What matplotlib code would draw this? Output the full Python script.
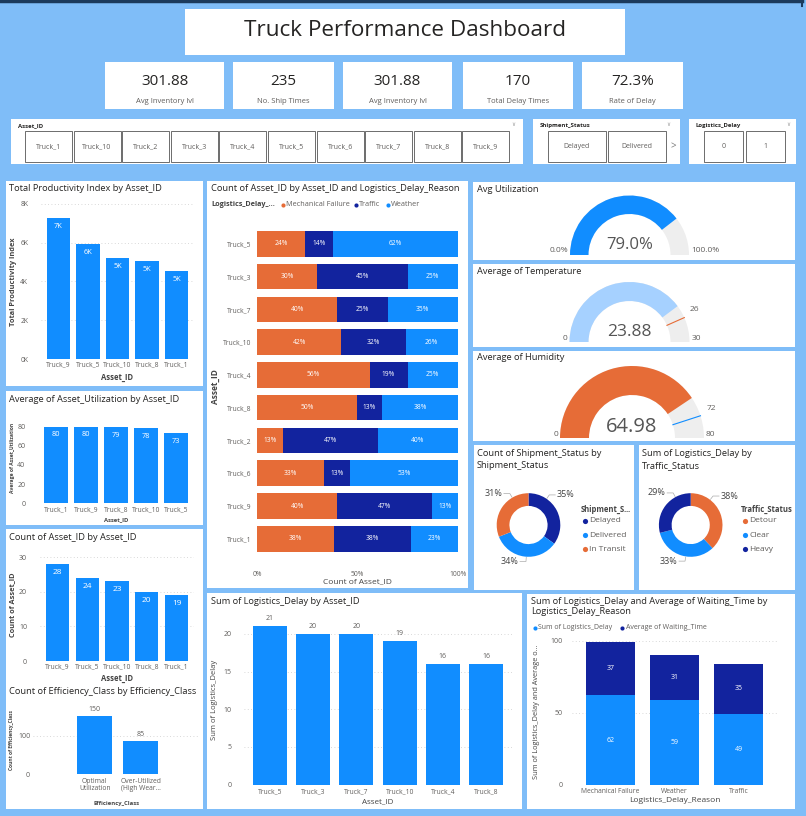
import numpy as np
import matplotlib
matplotlib.use("Agg")
import matplotlib.pyplot as plt
from matplotlib.patches import Rectangle, Wedge

plt.rcParams['font.family'] = ['Open Sans', 'DejaVu Sans']

# ---------------- data ----------------
kpi_values = ["301.88", "235", "301.88", "170", "72.3%"]
kpi_labels = ["Avg Inventory lvl", "No. Ship Times", "Avg Inventory lvl", "Total Delay Times", "Rate of Delay"]

slicer_trucks = ["Truck_1", "Truck_10", "Truck_2", "Truck_3", "Truck_4", "Truck_5", "Truck_6", "Truck_7", "Truck_8", "Truck_9"]
slicer_status = ["Delayed", "Delivered"]
slicer_delay = ["0", "1"]

prod_ids = ["Truck_9", "Truck_5", "Truck_10", "Truck_8", "Truck_1"]
prod_vals = [7280, 5950, 5220, 5060, 4520]

util_ids = ["Truck_1", "Truck_9", "Truck_8", "Truck_10", "Truck_5"]
util_vals = [80, 80, 79, 78, 73]

count_ids = ["Truck_9", "Truck_5", "Truck_10", "Truck_8", "Truck_1"]
count_vals = [28, 24, 23, 20, 19]

eff_classes = ["Optimal\nUtilization", "Over-Utilized\n(High Wear..."]
eff_vals = [150, 85]

reason_ids = ["Truck_5", "Truck_3", "Truck_7", "Truck_10", "Truck_4", "Truck_8", "Truck_2", "Truck_6", "Truck_9", "Truck_1"]
reason_names = ["Mechanical Failure", "Traffic", "Weather"]
mech_pct = [24, 30, 40, 42, 56, 50, 13, 33, 40, 38]
traffic_pct = [14, 45, 25, 32, 19, 13, 47, 13, 47, 38]
weather_pct = [62, 25, 35, 26, 25, 38, 40, 53, 13, 23]

util_gauge = (79.0, 0, 100)
temp_gauge = (23.88, 0, 30, 26)
hum_gauge = (64.98, 0, 80, 72)

ship_status = ["Delayed", "Delivered", "In Transit"]
ship_pct = [35, 34, 31]
traffic_status = ["Detour", "Clear", "Heavy"]
traffic_share = [38, 33, 29]

delay_ids = ["Truck_5", "Truck_3", "Truck_7", "Truck_10", "Truck_4", "Truck_8"]
delay_vals = [21, 20, 20, 19, 16, 16]

delay_reasons = ["Mechanical Failure", "Weather", "Traffic"]
sum_delay = [62, 59, 49]
avg_wait = [37, 31, 35]

# ---------------- style ----------------
BLUE = '#118DFF'
NAVY = '#12239E'
ORANGE = '#E66C37'
LIGHT = '#A6D1FF'
GBG = '#EEEEEE'
BG = '#7FBDF8'
GRAY = '#605E5C'
DARK = '#252423'

W, H = 806, 816
fig = plt.figure(figsize=(W / 100, H / 100), dpi=100)
fig.patch.set_facecolor(BG)

ax0 = fig.add_axes([0, 0, 1, 1])
ax0.set_xlim(0, W)
ax0.set_ylim(0, H)
ax0.axis('off')


def Y(y):
    return H - y


def box(x0, y0, x1, y1, fc='white', ec='none', lw=0.6):
    ax0.add_patch(Rectangle((x0, Y(y1)), x1 - x0, y1 - y0, facecolor=fc, edgecolor=ec, lw=lw))


def txt(x, y, s, size=6, color=DARK, ha='left', va='center', **kw):
    ax0.text(x, Y(y), s, fontsize=size, color=color, ha=ha, va=va, **kw)


def axpx(x0, y0, x1, y1):
    a = fig.add_axes([x0 / W, (H - y1) / H, (x1 - x0) / W, (y1 - y0) / H])
    a.set_facecolor('none')
    for s in a.spines.values():
        s.set_visible(False)
    a.tick_params(length=0, labelsize=4.9, labelcolor=GRAY)
    return a


# top frame line
ax0.plot([0, 802], [Y(1), Y(1)], color='#1B3A5C', lw=2.5)
ax0.plot([802, 802], [Y(0), Y(6)], color='#1B3A5C', lw=1.5)

# title
box(185, 9, 625, 55)
txt(405, 31, "Truck Performance Dashboard", size=16.2, ha='center', color=DARK)

# KPI cards
cards = [(105, 224), (233, 334), (343, 452), (463, 573), (582, 683)]
for (x0, x1), v, l in zip(cards, kpi_values, kpi_labels):
    box(x0, 62, x1, 109)
    txt((x0 + x1) / 2, 81.5, v, size=11, ha='center', color=DARK)
    txt((x0 + x1) / 2, 101.5, l, size=5.5, ha='center', color=GRAY)


# slicers
def slicer(x0, x1, title, items, bx0, step, bw, chev):
    box(x0, 119, x1, 164)
    txt(x0 + 7, 125.5, title, size=4.3, weight='bold')
    txt(chev, 124.5, "\u2228", size=4, color='#999999', ha='center')
    for i, it in enumerate(items):
        bx = bx0 + i * step
        box(bx, 131, bx + bw, 161.5, ec='#555555', lw=0.6)
        txt(bx + bw / 2, 146.5, it, size=5.0, ha='center', color=GRAY)


slicer(11, 523, "Asset_ID", slicer_trucks, 25, 48.6, 47, 513)
slicer(533, 680, "Shipment_Status", slicer_status, 547.5, 60, 58, 668)
txt(673.5, 146.5, ">", size=7, color='#777777', ha='center')
slicer(689, 796, "Logistics_Delay", slicer_delay, 704, 41.5, 39, 788)

# panels
box(6, 181, 203, 386)
box(6, 391, 203, 525)
box(6, 529, 203, 809)
box(207, 181, 468, 588)
box(473, 182, 795, 260)
box(473, 264, 795, 347)
box(473, 351, 795, 441)
box(474, 445, 634, 590)
box(639, 445, 795, 590)
box(207, 593, 522, 809)
box(527, 594, 795, 809)

TS = 6.7  # chart title size


def inside_labels(ax, xs, vals, labels, off=-3.5, color='white', size=5.3, va='top'):
    for x, v, l in zip(xs, vals, labels):
        ax.annotate(l, (x, v), xytext=(0, off), textcoords='offset points',
                    ha='center', va=va, color=color, fontsize=size)


def grid_y(ax):
    ax.grid(axis='y', color='#CCCCCC', ls=(0, (1, 3)), lw=0.6)
    ax.set_axisbelow(True)


# ---- Total Productivity Index ----
txt(9, 188.5, "Total Productivity Index by Asset_ID", size=TS)
a = axpx(40.8, 200, 194.2, 359)
x = np.arange(len(prod_ids))
a.bar(x, prod_vals, width=0.78, color=BLUE)
a.set_xlim(-0.6, len(prod_ids) - 0.4)
a.set_ylim(0, 8206)
a.set_yticks([0, 2000, 4000, 6000, 8000])
a.set_yticklabels(["0K", "2K", "4K", "6K", "8K"])
a.set_xticks(x)
a.set_xticklabels(prod_ids)
a.tick_params(axis='y', pad=9)
a.tick_params(axis='x', pad=2)
grid_y(a)
inside_labels(a, x, prod_vals, [f"{round(v / 1000)}K" for v in prod_vals])
txt(14, 282, "Total Productivity Index", size=5.3, rotation=90, ha='center', weight='bold', color='#444444')
txt(117, 377.5, "Asset_ID", size=5.5, ha='center', weight='bold', color='#444444')

# ---- Average of Asset_Utilization ----
txt(9, 399, "Average of Asset_Utilization by Asset_ID", size=TS)
a = axpx(38, 415, 194, 503.3)
x = np.arange(len(util_ids))
a.bar(x, util_vals, width=0.78, color=BLUE)
a.set_xlim(-0.6, len(util_ids) - 0.4)
a.set_ylim(0, 92)
a.set_yticks([0, 20, 40, 60, 80])
a.set_xticks(x)
a.set_xticklabels(util_ids)
a.tick_params(axis='y', pad=9, labelsize=5)
a.tick_params(axis='x', pad=2)
inside_labels(a, x, util_vals, [str(v) for v in util_vals])
txt(12.5, 458, "Average of Asset_Utilization", size=3.6, rotation=90, ha='center', weight='bold', color='#444444')
txt(116, 520, "Asset_ID", size=4.2, ha='center', weight='bold', color='#444444')

# ---- Count of Asset_ID ----
txt(9, 537, "Count of Asset_ID by Asset_ID", size=TS)
a = axpx(39.6, 553, 194.4, 661)
x = np.arange(len(count_ids))
a.bar(x, count_vals, width=0.78, color=BLUE)
a.set_xlim(-0.6, len(count_ids) - 0.4)
a.set_ylim(0, 31.2)
a.set_yticks([0, 10, 20, 30])
a.set_xticks(x)
a.set_xticklabels(count_ids)
a.tick_params(axis='y', pad=9, labelsize=5)
a.tick_params(axis='x', pad=2)
grid_y(a)
inside_labels(a, x, count_vals, [str(v) for v in count_vals], size=6)
txt(13, 605, "Count of Asset_ID", size=5.3, rotation=90, ha='center', weight='bold', color='#444444')
txt(117, 678.5, "Asset_ID", size=5.5, ha='center', weight='bold', color='#444444')

# ---- Count of Efficiency_Class ----
txt(9, 692, "Count of Efficiency_Class by Efficiency_Class", size=TS)
a = axpx(33, 712, 200, 774.3)
x = np.arange(len(eff_classes))
a.bar(x, eff_vals, width=0.76, color=BLUE)
a.set_xlim(-1.34, 2.29)
a.set_ylim(0, 161)
a.set_yticks([0, 100])
a.set_xticks(x)
a.set_xticklabels(eff_classes, linespacing=1.1)
a.tick_params(axis='y', pad=2, labelsize=5)
a.tick_params(axis='x', pad=2.5)
grid_y(a)
inside_labels(a, x, eff_vals, [str(v) for v in eff_vals], off=2.5, color=GRAY, size=5, va='bottom')
txt(12, 740, "Count of Efficiency_Class", size=3.5, rotation=90, ha='center', weight='bold', color='#444444')
txt(117, 803, "Efficiency_Class", size=4.2, ha='center', weight='bold', color='#444444')

# ---- 100% stacked bars ----
txt(211, 188.5, "Count of Asset_ID by Asset_ID and Logistics_Delay_Reason", size=TS)
txt(211, 205, "Logistics_Delay_...", size=5.2, weight='bold', color='#444444')
leg = [(282.7, ORANGE, "Mechanical Failure"), (355.7, NAVY, "Traffic"), (387.7, BLUE, "Weather")]
for lx, c, name in leg:
    ax0.scatter([lx], [Y(205)], s=9, color=c, lw=0)
    txt(lx + 3.5, 205, name, size=5.2, color=GRAY)
a = axpx(257.3, 224.1, 457.7, 558.5)
y = np.arange(len(reason_ids))
tot = np.array(mech_pct) + np.array(traffic_pct) + np.array(weather_pct)
left = np.zeros(len(reason_ids))
for vals, c in zip([mech_pct, traffic_pct, weather_pct], [ORANGE, NAVY, BLUE]):
    frac = np.array(vals) / tot
    a.barh(y, frac, left=left, height=0.78, color=c)
    for yi, l, f, v in zip(y, left, frac, vals):
        a.text(l + f / 2, yi, f"{v}%", ha='center', va='center', color='white', fontsize=4.8)
    left = left + frac
a.set_xlim(0, 1)
a.set_ylim(len(reason_ids) - 0.4, -0.6)
a.set_yticks(y)
a.set_yticklabels(reason_ids)
a.set_xticks([0, 0.5, 1])
a.set_xticklabels(["0%", "50%", "100%"])
a.tick_params(axis='y', pad=4)
a.tick_params(axis='x', pad=9)
txt(215, 387, "Asset_ID", size=6, rotation=90, ha='center', weight='bold', color='#444444')
txt(357, 582, "Count of Asset_ID", size=6, ha='center', color='#444444')


# ---- gauges ----
def gauge(cx, cy, r_out, r_in, value, vmin, vmax, color, target=None, tcolor=None,
          vtext='', vsize=12, lmin='', lmax='', ltarget=''):
    frac = (value - vmin) / (vmax - vmin)
    ang = 180 - 180 * frac
    ax0.add_patch(Wedge((cx, Y(cy)), r_out, 0, 180, width=r_out - r_in, facecolor=GBG, lw=0))
    ax0.add_patch(Wedge((cx, Y(cy)), r_out, ang, 180, width=r_out - r_in, facecolor=color, lw=0))
    txt(cx, cy - 10 - (vsize - 12) * 0.6, vtext, size=vsize, ha='center', color='#555555')
    txt(cx - r_out - 2, cy - 4, lmin, size=6, ha='right', color=GRAY)
    txt(cx + r_out + 2, cy - 4, lmax, size=6, ha='left', color=GRAY)
    if target is not None:
        t = np.radians(180 - 180 * (target - vmin) / (vmax - vmin))
        ax0.plot([cx + r_in * np.cos(t), cx + r_out * np.cos(t)],
                 [Y(cy) + r_in * np.sin(t), Y(cy) + r_out * np.sin(t)], color=tcolor, lw=0.8)
        tx = cx + (r_out + 6) * np.cos(t)
        ty = Y(cy) + (r_out + 6) * np.sin(t) + 2
        ax0.text(tx, ty, ltarget, fontsize=6, color=GRAY, ha='left', va='bottom')


txt(477, 189, "Avg Utilization", size=TS)
gauge(629.5, 255, 59.5, 41, util_gauge[0], util_gauge[1], util_gauge[2], BLUE,
      vtext=f"{util_gauge[0]:.1f}%", vsize=12, lmin=f"{util_gauge[1]:.1f}%", lmax=f"{util_gauge[2]:.1f}%")
txt(477, 271, "Average of Temperature", size=TS)
gauge(629.5, 342, 60, 41, temp_gauge[0], temp_gauge[1], temp_gauge[2], LIGHT,
      target=temp_gauge[3], tcolor=ORANGE, vtext=f"{temp_gauge[0]:.2f}", vsize=12.5,
      lmin=str(temp_gauge[1]), lmax=str(temp_gauge[2]), ltarget=str(temp_gauge[3]))
txt(477, 358, "Average of Humidity", size=TS)
gauge(632, 438, 72, 43, hum_gauge[0], hum_gauge[1], hum_gauge[2], ORANGE,
      target=hum_gauge[3], tcolor=BLUE, vtext=f"{hum_gauge[0]:.2f}", vsize=14.5,
      lmin=str(hum_gauge[1]), lmax=str(hum_gauge[2]), ltarget=str(hum_gauge[3]))


# ---- donuts ----
def donut(cx, cy, r, vals, colors, names, legend_title, lx, ly):
    a = axpx(cx - r, cy - r, cx + r, cy + r)
    wedges, _ = a.pie(vals, colors=colors, startangle=90, counterclock=False,
                      wedgeprops=dict(width=0.4, linewidth=0))
    a.set_xlim(-1, 1)
    a.set_ylim(-1, 1)
    for w, v in zip(wedges, vals):
        mid = ((w.theta1 + w.theta2) / 2) % 360
        # leader anchors lean toward the vertical, like the Power BI layout
        vert = 90 if mid < 180 else 270
        mid = np.radians(mid + 0.45 * (vert - mid))
        c, s = np.cos(mid), np.sin(mid)
        p1 = (cx + r * 1.02 * c, Y(cy) + r * 1.02 * s)
        p2 = (cx + r * 1.15 * c, Y(cy) + r * 1.15 * s)
        d = 6 if c >= 0 else -6
        p3 = (p2[0] + d, p2[1])
        ax0.plot([p1[0], p2[0], p3[0]], [p1[1], p2[1], p3[1]], color='#AAAAAA', lw=0.5)
        ax0.text(p3[0] + (1.5 if c >= 0 else -1.5), p3[1], f"{v}%", fontsize=6.5, color='#444444',
                 ha='left' if c >= 0 else 'right', va='center')
    txt(lx - 3, ly, legend_title, size=5.5, weight='bold', color='#444444')
    for i, (n, col) in enumerate(zip(names, colors)):
        yy = ly + 11.5 + i * 14.2
        ax0.scatter([lx + 1], [Y(yy)], s=14, color=col, lw=0)
        txt(lx + 5, yy, n, size=6, color=GRAY)


txt(477, 454, "Count of Shipment_Status by", size=TS)
txt(477, 465.5, "Shipment_Status", size=TS)
donut(528.5, 525, 31.8, ship_pct, [NAVY, BLUE, ORANGE], ship_status, "Shipment_S...", 584, 509.5)
txt(642, 454, "Sum of Logistics_Delay by", size=TS)
txt(642, 465.5, "Traffic_Status", size=TS)
donut(690.7, 525, 31.8, traffic_share, [ORANGE, BLUE, NAVY], traffic_status, "Traffic_Status", 744, 509.5)

# ---- Sum of Logistics_Delay by Asset_ID ----
txt(211, 601, "Sum of Logistics_Delay by Asset_ID", size=TS)
a = axpx(244, 612, 512, 784.7)
x = np.arange(len(delay_ids))
a.bar(x, delay_vals, width=0.79, color=BLUE)
a.set_xlim(-0.6, len(delay_ids) - 0.4)
a.set_ylim(0, 22.9)
a.set_yticks([0, 5, 10, 15, 20])
a.set_xticks(x)
a.set_xticklabels(delay_ids)
a.tick_params(axis='y', pad=9, labelsize=5)
a.tick_params(axis='x', pad=2.5)
grid_y(a)
inside_labels(a, x, delay_vals, [str(v) for v in delay_vals], off=3, color=GRAY, size=5, va='bottom')
txt(215, 700, "Sum of Logistics_Delay", size=5.5, rotation=90, ha='center', color='#444444')
txt(378, 802, "Asset_ID", size=5.8, ha='center', color='#444444')

# ---- stacked: delay + waiting ----
txt(531, 601, "Sum of Logistics_Delay and Average of Waiting_Time by", size=TS)
txt(531, 611.5, "Logistics_Delay_Reason", size=TS)
for lx, c, name in [(535, BLUE, "Sum of Logistics_Delay"), (622, NAVY, "Average of Waiting_Time")]:
    ax0.scatter([lx], [Y(627.5)], s=9, color=c, lw=0)
    txt(lx + 3.5, 627.5, name, size=5, color=GRAY)
a = axpx(572, 636, 777, 784.7)
x = np.arange(len(delay_reasons))
a.bar(x, sum_delay, width=0.77, color=BLUE)
a.bar(x, avg_wait, bottom=sum_delay, width=0.77, color=NAVY)
for xi, s1, s2 in zip(x, sum_delay, avg_wait):
    a.text(xi, s1 / 2, str(s1), ha='center', va='center', color='white', fontsize=5)
    a.text(xi, s1 + s2 / 2, str(s2), ha='center', va='center', color='white', fontsize=5)
a.set_xlim(-0.6, len(delay_reasons) - 0.4)
a.set_ylim(0, 103.3)
a.set_yticks([0, 50, 100])
a.set_xticks(x)
a.set_xticklabels(delay_reasons)
a.tick_params(axis='y', pad=7, labelsize=5)
a.tick_params(axis='x', pad=2.5)
a.grid(axis='y', color='#CCCCCC', ls=(0, (1, 3)), lw=0.6)
a.set_axisbelow(True)
txt(537, 712, "Sum of Logistics_Delay and Average o...", size=5.3, rotation=90, ha='center', color='#444444')
txt(675, 801, "Logistics_Delay_Reason", size=6, ha='center', color='#444444')

fig.savefig("out.png", dpi=100, facecolor=BG)
